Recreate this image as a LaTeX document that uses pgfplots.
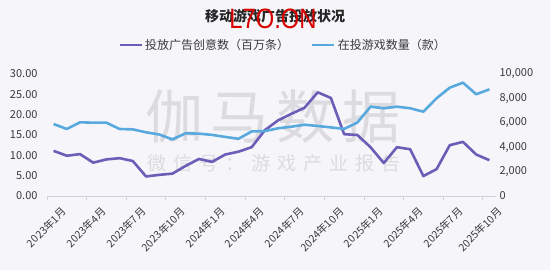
\documentclass[border=0pt]{standalone}
\usepackage{fontspec}
\setmainfont{Noto Sans CJK SC}
\newfontfamily\lat{Liberation Sans}
\usepackage{pgfplots}
\pgfplotsset{compat=1.18}
\definecolor{bgc}{HTML}{F6F5FA}
\definecolor{pur}{HTML}{6C5DB7}
\definecolor{blu}{HTML}{58A9DD}
\definecolor{txt}{HTML}{3A3A3A}
\definecolor{axc}{HTML}{D2D2DA}
\definecolor{wm}{HTML}{DCDCE0}
\begin{document}
\begin{tikzpicture}
\useasboundingbox (0pt,0pt) rectangle (550pt,270pt);
\fill[bgc] (0pt,0pt) rectangle (550pt,270pt);
\node[font=\fontsize{14}{16}\selectfont\bfseries, text=black!85] at (275pt,254pt) {移动游戏广告投放状况};
\node[font=\fontsize{58}{60}\selectfont, text=wm] at (273pt,153pt) {伽\hspace{8pt}马\hspace{8pt}数\hspace{8pt}据};
\node[font=\fontsize{19}{20}\selectfont, text=wm] at (274pt,107pt) {微\hspace{7pt}信\hspace{7pt}号\hspace{7pt}：\hspace{7pt}游\hspace{7pt}戏\hspace{7pt}产\hspace{7pt}业\hspace{7pt}报\hspace{7pt}告};
\begin{axis}[
  name=main,
  at={(47pt,74pt)}, anchor=south west,
  scale only axis, width=449pt, height=122pt,
  xmin=-0.5, xmax=33.5, ymin=0, ymax=30,
  clip=false,
  axis x line*=bottom, axis y line*=left,
  x axis line style={axc, line width=0.8pt, -},
  y axis line style={draw=none},
  xtick={0,3,...,33},
  xticklabels={2023年1月,2023年4月,2023年7月,2023年10月,2024年1月,2024年4月,2024年7月,2024年10月,2025年1月,2025年4月,2025年7月,2025年10月},
  minor xtick={-0.5,2.5,...,32.5},
  major tick length=0pt, minor tick length=4pt, tick align=outside,
  minor x tick style={axc, line width=0.8pt},
  major x tick style={draw=none},
  ytick={0,5,...,30},
  ytick style={draw=none},
  xticklabel style={font=\fontsize{10.5}{12}\selectfont, text=txt, rotate=45, anchor=north east, xshift=1.5pt, yshift=-9pt},
  yticklabel style={font=\fontsize{11}{12}\selectfont, text=txt, xshift=-6pt, /pgf/number format/.cd, fixed, fixed zerofill, precision=2, assume math mode=true},
  legend style={at={(0.526,1.238)}, anchor=center, draw=none, fill=none, font=\fontsize{12}{14}\selectfont, text=txt, legend columns=2, /tikz/every even column/.append style={column sep=20pt}},
  legend image code/.code={\draw[#1] (0pt,0pt) -- (22pt,0pt);},
]
\addplot[pur, line width=2.6pt, line join=round] coordinates {
(0,11.1)(1,9.9)(2,10.3)(3,8.2)(4,9.0)(5,9.3)(6,8.6)(7,4.8)(8,5.2)(9,5.5)
(10,7.4)(11,9.1)(12,8.4)(13,10.2)(14,10.9)(15,12.0)(16,16.2)(17,18.6)(18,20.2)(19,21.7)
(20,25.5)(21,24.1)(22,15.2)(23,15.0)(24,12.0)(25,8.1)(26,12.0)(27,11.5)(28,4.9)(29,6.6)
(30,12.5)(31,13.3)(32,10.2)(33,8.8)};
\addlegendentry{投放广告创意数（百万条）}
\addlegendimage{blu, line width=2.6pt}
\addlegendentry{在投游戏数量（款）}
\end{axis}
\begin{axis}[
  at={(main.south west)}, anchor=south west,
  scale only axis, width=449pt, height=122pt,
  xmin=-0.5, xmax=33.5, ymin=0, ymax=10000,
  clip=false,
  axis x line=none, axis y line*=right,
  y axis line style={draw=none},
  ytick={0,2000,...,10000},
  ytick style={draw=none},
  major tick length=0pt,
  scaled y ticks=false,
  yticklabel style={font=\fontsize{11}{12}\selectfont, text=txt, /pgf/number format/.cd, fixed, 1000 sep={,}, assume math mode=true},
]
\addplot[blu, line width=2.6pt, line join=round] coordinates {
(0,5900)(1,5490)(2,6040)(3,6010)(4,6010)(5,5490)(6,5460)(7,5220)(8,5040)(9,4640)
(10,5140)(11,5110)(12,5010)(13,4840)(14,4690)(15,5290)(16,5320)(17,5550)(18,5680)(19,5840)
(20,5740)(21,5620)(22,5500)(23,6020)(24,7320)(25,7190)(26,7320)(27,7190)(28,6910)(29,8010)
(30,8880)(31,9290)(32,8340)(33,8740)};
\end{axis}
\node[font=\lat\fontsize{28}{28}\selectfont, text=red!85!black, xscale=0.85] at (273pt,251pt) {L7O.ON};
\end{tikzpicture}
\end{document}
